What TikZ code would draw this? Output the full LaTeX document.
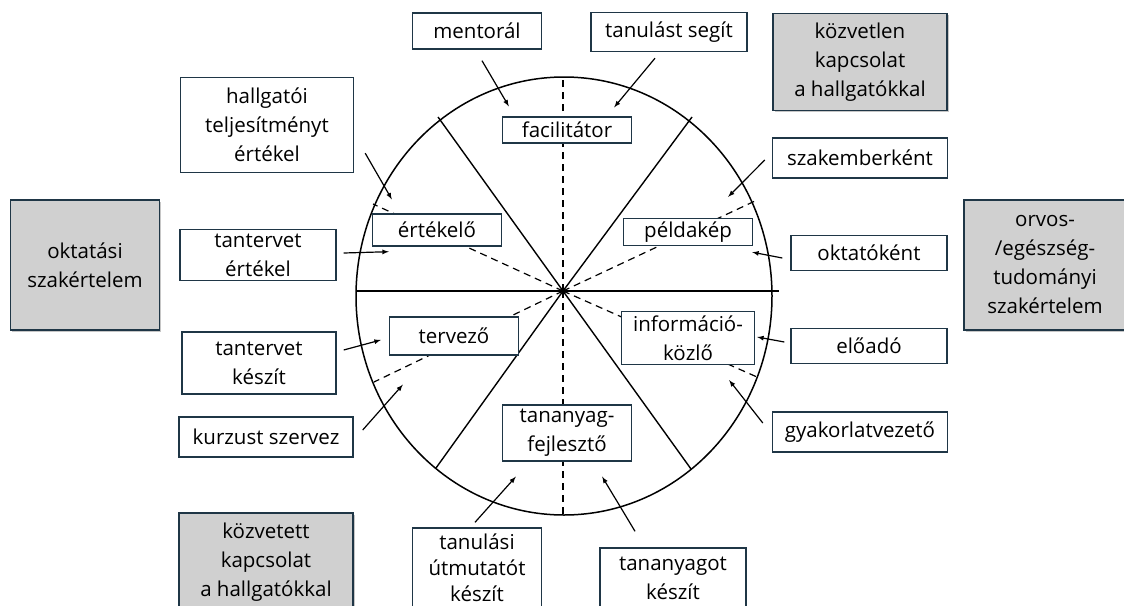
\documentclass[tikz,border=0pt]{standalone}
\usepackage{fontspec}
\setmainfont{Open Sans}
\usetikzlibrary{calc,shadows}
\definecolor{edge}{HTML}{1F3646}
\definecolor{shade}{HTML}{D0D0D0}
\tikzset{tight/.style={inner sep=2pt},
  box/.style={draw=edge, line width=1.4pt, fill=white, rectangle, align=center,
    font=\fontsize{20.5}{29}\selectfont},
  skill/.style={box, fill=shade,
    drop shadow={shadow xshift=1.5pt, shadow yshift=-1.5pt, opacity=0.45}},
  role/.style={box, minimum width=129pt},
  cut/.style={line width=1.2pt, dash pattern=on 7pt off 5pt}}

\begin{document}
\begin{tikzpicture}[x=1pt, y=-1pt, style=tight, >=latex]
  \useasboundingbox (0,0) rectangle (1124,605);
  \clip (0,0) rectangle (1124,605);

  % wheel
  \coordinate (ctr) at (563,291);
  \draw[line width=1.5pt] (564,296) ellipse [x radius=208pt, y radius=219pt];
  \draw[line width=1.4pt] (356,291) -- (779,291);
  \foreach \p in {(438,117), (692,117), (436,468), (691,469)}
    \draw[line width=1.4pt] (ctr) -- \p;
  \foreach \p in {(563,77), (563,515), (373,204), (755,201), (374,382), (757,377)}
    \draw[cut] (ctr) -- \p;

  % roles
  \node at (567,130) [role, minimum height=26pt] (facil) {facilitátor};
  \node at (437,230) [role, minimum height=32pt] (ertekelo) {értékelő};
  \node at (688,232) [role, minimum height=27pt] (peldakep) {példakép};
  \node at (454,336) [role, minimum height=38pt] (tervezo) {tervező};
  \node at (688,338) [role, minimum width=133pt, minimum height=53pt] (infokozlo) {információ-\\közlő};
  \node at (567,433) [role, minimum height=56pt] (fejleszto) {tananyag-\\fejlesztő};

  % tasks
  \node at (477,31) [box, minimum width=129pt, minimum height=36pt] (mentor) {mentorál};
  \node at (669,32) [box, minimum width=156pt, minimum height=39pt] (segit) {tanulást segít};
  \node at (267,125) [box, minimum width=173pt, minimum height=95pt] (hallg) {hallgatói\\teljesítményt\\értékel};
  \node at (258,255) [box, minimum width=156pt, minimum height=51pt] (tertekel) {tantervet\\értékel};
  \node at (259,363) [box, minimum width=154pt, minimum height=62pt] (tkeszit) {tantervet\\készít};
  \node at (266,437) [box, minimum width=174pt, minimum height=40pt] (kurzus) {kurzust szervez};
  \node at (477,568) [box, minimum width=129pt, minimum height=80pt,
    font=\fontsize{20.5}{26}\selectfont] (utmutat) {tanulási\\útmutatót\\készít};
  \node at (673,578) [box, minimum width=146pt, minimum height=60pt] (tanagot) {tananyagot\\készít};
  \node at (860,158) [box, minimum width=175pt, minimum height=40pt] (szakember) {szakemberként};
  \node at (869,253) [box, minimum width=156pt, minimum height=35pt] (oktato) {oktatóként};
  \node at (869,346) [box, minimum width=156pt, minimum height=35pt] (eloado) {előadó};
  \node at (860,432) [box, minimum width=175pt, minimum height=40pt] (gyakorlat) {gyakorlatvezető};

  % expertise and contact
  \node at (85,265) [skill, minimum width=149pt, minimum height=130pt] (oktszak) {oktatási\\szakértelem};
  \node at (1045,265) [skill, minimum width=162pt, minimum height=130pt] (orvszak) {orvos-\\/egészség-\\tudományi\\szakértelem};
  \node at (860,62) [skill, minimum width=174pt, minimum height=97pt] (kozvetlen) {közvetlen\\kapcsolat\\a hallgatókkal};
  \node at (266,562) [skill, minimum width=174pt, minimum height=98pt] (kozvetett) {közvetett\\kapcsolat\\a hallgatókkal};

  % arrows
  \draw[->, line width=1.2pt] ($ (mentor.south) + (5,11) $) -- ($ (facil.north west) + (7,-10) $);
  \draw[->, line width=1.2pt] ($ (segit.south) + (-14,6) $) -- ($ (facil.north east) + (-18,-9) $);
  \draw[->, line width=1.2pt] ($ (hallg.south east) + (11,-20) $) -- ($ (ertekelo.north west) + (20,-14) $);
  \draw[->, line width=1.2pt] ($ (szakember.west) + (-7,2) $) -- ($ (peldakep.north east) + (-25,-21) $);
  \draw[->, line width=1.2pt] ($ (tertekel.east) + (7,-2) $) -- ($ (ertekelo.south west) + (17,5) $);
  \draw[->, line width=1.2pt] ($ (oktato.west) + (-8,5) $) -- ($ (peldakep.south east) + (-1,6) $);
  \draw[->, line width=1.2pt] ($ (tkeszit.east) + (7,-13) $) -- ($ (tervezo.west) + (-8,4) $);
  \draw[->, line width=1.2pt] ($ (eloado.west) + (-6,-4) $) -- ($ (infokozlo.east) + (2,-1) $);
  \draw[->, line width=1.2pt] ($ (kurzus.east) + (9,-7) $) -- ($ (tervezo.south west) + (14,29) $);
  \draw[->, line width=1.2pt] ($ (gyakorlat.west) + (-9,-9) $) -- ($ (infokozlo.south east) + (-26,15) $);
  \draw[->, line width=1.2pt] ($ (utmutat.north) + (-2,-5) $) -- ($ (fejleszto.south west) + (14,15) $);
  \draw[->, line width=1.2pt] ($ (tanagot.north) + (-38,-16) $) -- ($ (fejleszto.south east) + (-30,15) $);
\end{tikzpicture}
\end{document}
